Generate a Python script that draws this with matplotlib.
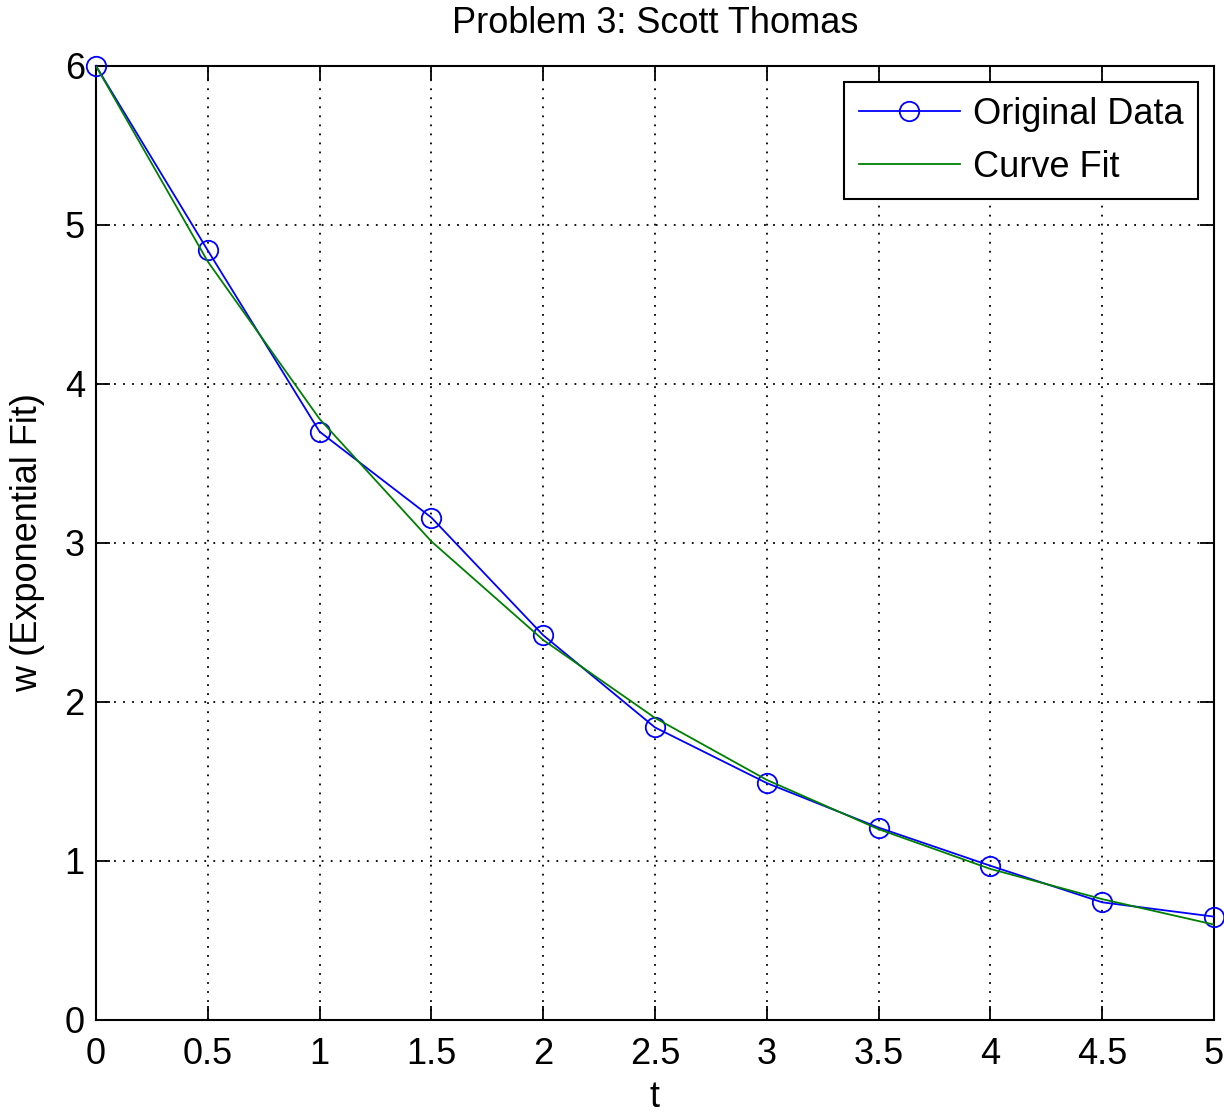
import numpy as np
import matplotlib
matplotlib.use('Agg')
import matplotlib.pyplot as plt

plt.rcParams['font.family'] = ['Liberation Sans Narrow', 'Liberation Sans', 'DejaVu Sans']

# data
t = [0, 0.5, 1, 1.5, 2, 2.5, 3, 3.5, 4, 4.5, 5]
w_orig = [6.0, 4.84, 3.70, 3.16, 2.42, 1.84, 1.49, 1.21, 0.97, 0.74, 0.65]
w_fit = [6.0, 4.77, 3.78, 3.01, 2.39, 1.90, 1.51, 1.20, 0.95, 0.76, 0.60]

xticks = [0, 0.5, 1, 1.5, 2, 2.5, 3, 3.5, 4, 4.5, 5]
xticklabels = ['0', '0.5', '1', '1.5', '2', '2.5', '3', '3.5', '4', '4.5', '5']
yticks = [0, 1, 2, 3, 4, 5, 6]

fig = plt.figure(figsize=(12.24, 11.14), dpi=100)
ax = fig.add_axes([0.0784, 0.0844, 0.9134, 0.8564])

ax.plot(t, w_orig, color='#0000ff', linewidth=1.3, marker='o', markersize=14,
        markerfacecolor='none', markeredgecolor='#0000ff', markeredgewidth=1.3,
        label='Original Data', clip_on=False, zorder=3)
ax.plot(t, w_fit, color='#008000', linewidth=1.3, label='Curve Fit', zorder=4)

ax.set_xlim(0, 5)
ax.set_ylim(0, 6)
ax.set_xticks(xticks)
ax.set_xticklabels(xticklabels)
ax.set_yticks(yticks)
ax.grid(True, color='black', linestyle=(0, (1, 4)), linewidth=1.3)
ax.tick_params(direction='in', length=10, width=1.3, labelsize=26, top=True, right=True, pad=8)
ax.tick_params(axis='x', pad=12)
for s in ax.spines.values():
    s.set_linewidth(1.5)

ax.set_title('Problem 3: Scott Thomas', fontsize=26, pad=24)
ax.set_xlabel('t', fontsize=26, labelpad=6)
ax.set_ylabel('w (Exponential Fit)', fontsize=26, labelpad=14)

leg = ax.legend(loc='upper right', fontsize=26, fancybox=False, framealpha=1,
                edgecolor='black', borderaxespad=0.45, handlelength=2.8,
                handletextpad=0.35, labelspacing=0.5, borderpad=0.4)
leg.get_frame().set_linewidth(1.5)

fig.savefig('out.png', dpi=100)
